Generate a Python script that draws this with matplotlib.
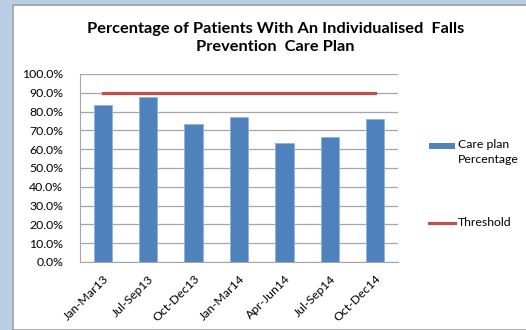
import matplotlib.pyplot as plt
from matplotlib.patches import Rectangle
from matplotlib.lines import Line2D
from matplotlib.ticker import PercentFormatter
import numpy as np

quarters = ["Jan-Mar13", "Jul-Sep13", "Oct-Dec13", "Jan-Mar14",
            "Apr-Jun14", "Jul-Sep14", "Oct-Dec14"]
care_plan = [83.3, 87.6, 73.4, 77.0, 63.3, 66.3, 75.9]
threshold = [90, 90, 90, 90, 90, 90, 90]
series_names = ["Care plan\nPercentage", "Threshold"]

BAR_BLUE = "#4F81BD"
LINE_RED = "#C0504D"
FONT = "Lato"
SIZE = 8.8
W, H = 526, 330


def fx(px):
    return px / W


def fy(py):
    return 1 - py / H


fig = plt.figure(figsize=(W / 100, H / 100), dpi=100)
fig.patch.set_facecolor("#B9CDE5")

# white chart area with a grey frame, kept behind the axes
fig.add_artist(Rectangle((fx(13), 0), 1, fy(5), transform=fig.transFigure,
                         facecolor="white", edgecolor="#A0A0A0", linewidth=1.2,
                         zorder=-5))

ax = fig.add_axes([fx(80), fy(262), fx(318), 188 / H])
ax.set_zorder(2)
ax.patch.set_alpha(0)
x = np.arange(len(quarters))

ax.bar(x, care_plan, width=0.4, color=BAR_BLUE, edgecolor="#8DB3E2",
       linewidth=0.6, zorder=2)
ax.plot(x, threshold, color=LINE_RED, linewidth=2.3, zorder=3)

ax.set_xlim(-0.5, len(quarters) - 0.5)
ax.set_ylim(0, 100)
ax.set_yticks(np.arange(0, 101, 10))
ax.yaxis.set_major_formatter(PercentFormatter(decimals=1))
ax.grid(axis="y", color="#A6A6A6", linewidth=0.9, zorder=0)

ax.set_xticks(x)
ax.set_xticklabels(quarters, rotation=45, ha="right", rotation_mode="anchor",
                   family=FONT, fontsize=SIZE)
for lbl in ax.get_yticklabels():
    lbl.set_family(FONT)
    lbl.set_fontsize(SIZE)
ax.tick_params(axis="x", length=0, pad=8)
ax.tick_params(axis="y", length=0, pad=12)

for side in ["top", "right"]:
    ax.spines[side].set_visible(False)
for side in ["left", "bottom"]:
    ax.spines[side].set_color("#A6A6A6")

fig.text(fx(275.5), fy(38),
         "Percentage of Patients With An Individualised  Falls\nPrevention  Care Plan",
         ha="center", va="center", family=FONT, fontweight="bold", fontsize=11.8,
         linespacing=1.3)

# legend keys: bar swatch beside a two-line label, then the threshold line
fig.add_artist(Rectangle((fx(429), fy(149)), fx(26), 6 / H,
                         transform=fig.transFigure, facecolor=BAR_BLUE))
fig.text(fx(458), fy(139), series_names[0], ha="left", va="top",
         family=FONT, fontsize=SIZE, linespacing=1.5)
fig.add_artist(Line2D([fx(429), fx(455)], [fy(223), fy(223)],
                      transform=fig.transFigure, color=LINE_RED, linewidth=2.3))
fig.text(fx(458), fy(222), series_names[1], ha="left", va="center",
         family=FONT, fontsize=SIZE)

fig.savefig("out.png", dpi=100)
